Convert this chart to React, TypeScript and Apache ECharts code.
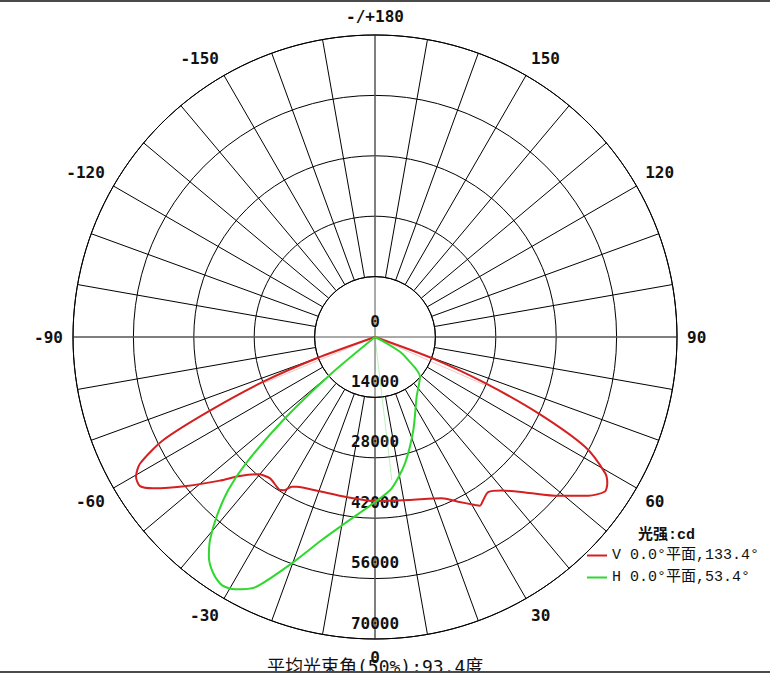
import React, { useEffect, useRef } from "react";
import * as echarts from "echarts";

// 光强刻度 (cd) 与角度标签
const radiusTicks = [0, 14000, 28000, 42000, 56000, 70000];
const angleLabelStep = 30;

const vName = "V 0.0°平面,133.4°";
const hName = "H 0.0°平面,53.4°";

// V 0.0° 平面 (角度, 光强)
const vAngles = [
  -71, -70, -68.2, -65.9, -64.05, -61.7, -59.7, -57.6, -55.7, -51.65, -47.2,
  -44.2, -40.35, -36.6, -33.3, -31.8, -30.6, -29.1, -27.6, -20.2, -10.6, 0,
  11.6, 22.5, 26.8, 30.8, 31.9, 33.6, 36.1, 39.5, 44.0, 49.1, 53.35, 56.1,
  57.8, 59.4, 62.4, 64.96, 67.3, 69.6, 71,
];
const vValues = [
  0, 14370, 27880, 42350, 54560, 61840, 64160, 64510, 62210, 55650, 49000,
  44920, 41770, 40800, 41510, 41750, 41260, 39710, 39150, 38040, 37670, 38010,
  38570, 40450, 42770, 45340, 46060, 45360, 44500, 46130, 50070, 56230, 61630,
  64210, 63630, 61980, 54930, 41720, 27580, 14370, 0,
];

// H 0.0° 平面
const hAngles = [
  -51, -50, -47.85, -45.6, -43.8, -41.4, -39.1, -37.1, -34.4, -31.7, -29.0,
  -25.6, -20.2, -14.7, -9.15, 0, 6.3, 13.35, 22.4, 34.9, 48.6, 56.1, 59.5,
  61.7, 63,
];
const hValues = [
  0, 13680, 28670, 41870, 49140, 55510, 60640, 63840, 66360, 67590, 66870,
  64350, 55910, 48650, 43740, 38250, 35280, 30090, 23320, 16870, 13910, 8850,
  6720, 3080, 0,
];

// 浅色辅助线
const faintRedAngles = [-67.5, 0, 66.4];
const faintRedValues = [28050, 0, 27800];
const faintGreenAngles = [0, 6.7];
const faintGreenValues = [0, 33400];

const toPolar = (angles: number[], values: number[]) =>
  values.map((v, i) => [v, angles[i] < 0 ? angles[i] + 360 : angles[i]]);

const monoFont = "'DejaVu Sans Mono', 'Noto Sans CJK SC', monospace";
const legendFont = "'Liberation Mono', 'Noto Sans CJK SC', monospace";

export default function App() {
  const chartRef = useRef<HTMLDivElement>(null);

  useEffect(() => {
    if (!chartRef.current) return;
    const myChart = echarts.init(chartRef.current, null, { renderer: "svg" });

    const center = [375, 337];
    const outer = 302;

    const option = {
      animation: false,
      backgroundColor: "#fff",
      title: [
        {
          text: "光强:cd",
          left: 638,
          top: 528,
          padding: 0,
          textStyle: {
            fontFamily: legendFont,
            fontSize: 15,
            fontWeight: "bold",
            color: "#111",
          },
        },
        {
          text: "平均光束角(50%):93.4度",
          left: 267,
          top: 657,
          padding: 0,
          textStyle: {
            fontFamily: monoFont,
            fontSize: 18,
            fontWeight: "normal",
            color: "#111",
          },
        },
      ],
      legend: {
        data: [vName, hName],
        orient: "vertical",
        left: 587,
        top: 548,
        padding: 0,
        icon: "rect",
        itemWidth: 20,
        itemHeight: 2,
        itemGap: 7,
        textStyle: { fontFamily: legendFont, fontSize: 15, color: "#111" },
      },
      polar: [
        { center, radius: [0, outer] },
        { center, radius: [outer / 5, outer] },
      ],
      angleAxis: [
        {
          polarIndex: 0,
          type: "value",
          min: 0,
          max: 360,
          interval: 90,
          startAngle: 270,
          clockwise: false,
          axisLine: { show: false },
          axisTick: { show: false },
          axisLabel: { show: false },
          splitLine: { show: true, lineStyle: { color: "#555", width: 1 } },
        },
        {
          polarIndex: 1,
          type: "value",
          min: 0,
          max: 360,
          interval: 10,
          startAngle: 270,
          clockwise: false,
          axisLine: { show: true, lineStyle: { color: "#000", width: 1 } },
          axisTick: { show: false },
          axisLabel: {
            show: true,
            margin: 10,
            fontFamily: monoFont,
            fontSize: 16,
            fontWeight: "bold",
            color: "#111",
            formatter: (v: number) => {
              if (v % angleLabelStep !== 0 || v === 360) return "";
              if (v === 180) return "-/+180";
              return String(v > 180 ? v - 360 : v);
            },
          },
          splitLine: {
            show: true,
            lineStyle: {
              color: ["#555", "#000", "#000", "#000", "#000", "#000", "#000", "#000", "#000"],
              width: 1,
            },
          },
        },
      ],
      radiusAxis: [
        {
          polarIndex: 0,
          type: "value",
          min: radiusTicks[0],
          max: radiusTicks[radiusTicks.length - 1],
          interval: radiusTicks[1] - radiusTicks[0],
          axisLine: { show: false },
          axisTick: { show: false },
          axisLabel: {
            show: true,
            margin: 0,
            align: "center",
            verticalAlign: "bottom",
            lineHeight: 32,
            fontFamily: monoFont,
            fontSize: 16,
            fontWeight: "bold",
            color: "#111",
            formatter: (v: number) => String(v),
          },
          splitLine: { show: true, lineStyle: { color: "#000", width: 1 } },
        },
        { polarIndex: 1, type: "value", show: false, min: 0, max: 1 },
      ],
      series: [
        {
          name: "faintRed",
          type: "line",
          coordinateSystem: "polar",
          polarIndex: 0,
          symbol: "none",
          silent: true,
          lineStyle: { color: "#e05050", width: 1, opacity: 0.35 },
          data: toPolar(faintRedAngles, faintRedValues),
        },
        {
          name: "faintGreen",
          type: "line",
          coordinateSystem: "polar",
          polarIndex: 0,
          symbol: "none",
          silent: true,
          lineStyle: { color: "#40d040", width: 1, opacity: 0.35 },
          data: toPolar(faintGreenAngles, faintGreenValues),
        },
        {
          name: vName,
          type: "line",
          coordinateSystem: "polar",
          polarIndex: 0,
          symbol: "none",
          smooth: 0.25,
          color: "#d42020",
          lineStyle: { color: "#d42020", width: 2 },
          data: toPolar(vAngles, vValues),
        },
        {
          name: hName,
          type: "line",
          coordinateSystem: "polar",
          polarIndex: 0,
          symbol: "none",
          smooth: 0.25,
          color: "#2fd82f",
          lineStyle: { color: "#2fd82f", width: 2 },
          data: toPolar(hAngles, hValues),
        },
      ],
    };
    myChart.setOption(option);

    return () => {
      myChart.dispose();
    };
  }, []);

  return (
    <div style={{ position: "absolute", left: 0, top: 0, width: 770, height: 675, background: "#fff" }}>
      <div ref={chartRef} style={{ position: "absolute", left: 0, top: 0, width: 770, height: 671 }}></div>
      <div style={{ position: "absolute", left: 0, top: 0, width: 770, height: 2, background: "#4a4a4a" }}></div>
      <div style={{ position: "absolute", left: 0, top: 671, width: 770, height: 2, background: "#4a4a4a" }}></div>
    </div>
  );
}
